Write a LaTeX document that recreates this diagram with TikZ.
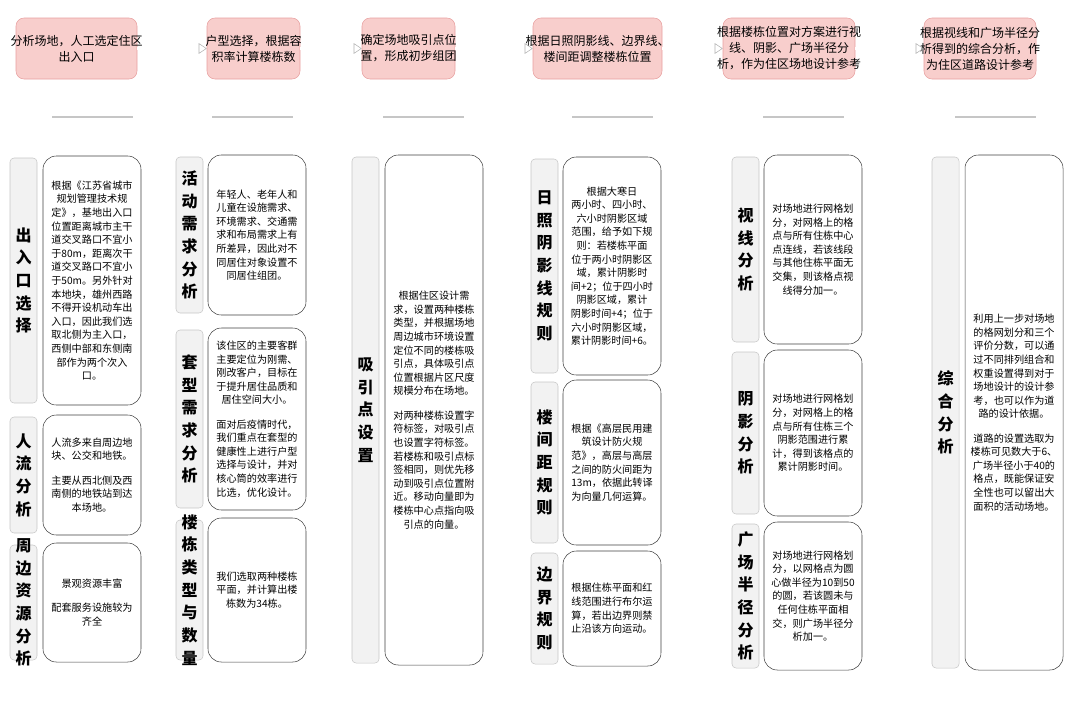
\documentclass[tikz,border=0pt]{standalone}
\usepackage{fontspec}
\setmainfont{Noto Sans CJK SC}
\usetikzlibrary{fit,arrows.meta}
\definecolor{stepred}{HTML}{F8CECC}
\definecolor{stepline}{HTML}{E8A0A0}
\tikzset{
  stepbox/.style={fill=stepred, draw=stepline, rounded corners=6pt, inner sep=0pt},
  lbl/.style={fill=gray!10, draw=gray!45, rounded corners=3pt, inner sep=0pt},
  txt/.style={fill=white, draw=black!75, rounded corners=10pt, inner sep=0pt},
  steptext/.style={align=center, font=\fontsize{9}{12}\selectfont},
  lbltext/.style={align=center, font=\fontsize{12}{17}\selectfont\bfseries},
  bodytext/.style={align=center, font=\fontsize{7.6}{10.2}\selectfont},
  flow/.style={draw=gray!60, double=white, double distance=1.6pt, -{Triangle[open,length=6pt,width=8pt]}},
  rule/.style={draw=gray!45, line width=0.8pt}
}
% one panel: grey label box plus white text box
\newcommand\panel[7]{%
  \node[lbl, fit={(#2,#4) (#2+27,#5)}] (#1l) {};
  \node[lbltext] at (#1l) {#6};
  \node[txt, fit={(#3,#4-2) (#3+98,#5+2)}] (#1t) {};
  \node[bodytext] at (#1t) {#7};
  \ignorespaces}
\begin{document}
\begin{tikzpicture}[x=0.75pt,y=-0.75pt]
\useasboundingbox (0,0) rectangle (1080,701);
% steps
\node[stepbox, fit={(16,18) (137,79)}] (s1) {};
\node[steptext] at (s1) {分析场地，人工选定住区\\出入口};
\node[stepbox, fit={(207,18) (300,79)}] (s2) {};
\node[steptext] at (s2) {户型选择，根据容\\积率计算楼栋数};
\node[stepbox, fit={(362,18) (455,79)}] (s3) {};
\node[steptext] at (s3) {确定场地吸引点位\\置，形成初步组团};
\node[stepbox, fit={(533,18) (662,79)}] (s4) {};
\node[steptext] at (s4) {根据日照阴影线、边界线、\\楼间距调整楼栋位置};
\node[stepbox, fit={(723,18) (855,79)}] (s5) {};
\node[steptext] at (s5) {根据楼栋位置对方案进行视\\线、阴影、广场半径分\\析，作为住区场地设计参考};
\node[stepbox, fit={(924,18) (1036,79)}] (s6) {};
\node[steptext] at (s6) {根据视线和广场半径分\\析得到的综合分析，作\\为住区道路设计参考};
\foreach \a/\b in {s1/s2,s2/s3,s3/s4,s4/s5,s5/s6}
  \draw[flow] (\a.east) -- (\b.west);
% rules under steps
\foreach \x in {52,212,383,572,763,955}
  \draw[rule] (\x,117) -- (\x+81,117);
% column 1
\panel{ent}{10}{43}{158}{403}{出\\入\\口\\选\\择}{根据《江苏省城市\\规划管理技术规\\定》，基地出入口\\位置距离城市主干\\道交叉路口不宜小\\于80m，距离次干\\道交叉路口不宜小\\于50m。另外针对\\本地块，雄州西路\\不得开设机动车出\\入口，因此我们选\\取北侧为主入口，\\西侧中部和东侧南\\部作为两个次入\\口。}
\panel{flowp}{10}{43}{417}{533}{人\\流\\分\\析}{人流多来自周边地\\块、公交和地铁。\\[8pt]主要从西北侧及西\\南侧的地铁站到达\\本场地。}
\panel{res}{10}{43}{545}{660}{周\\边\\资\\源\\分\\析}{景观资源丰富\\[8pt]配套服务设施较为\\齐全}
% column 2
\panel{act}{176}{208}{157}{313}{活\\动\\需\\求\\分\\析}{年轻人、老年人和\\儿童在设施需求、\\环境需求、交通需\\求和布局需求上有\\所差异，因此对不\\同居住对象设置不\\同居住组团。}
\panel{unit}{176}{208}{330}{508}{套\\型\\需\\求\\分\\析}{该住区的主要客群\\主要定位为刚需、\\刚改客户，目标在\\于提升居住品质和\\居住空间大小。\\[8pt]面对后疫情时代，\\我们重点在套型的\\健康性上进行户型\\选择与设计，并对\\核心筒的效率进行\\比选，优化设计。}
\panel{bld}{176}{208}{520}{660}{楼\\栋\\类\\型\\与\\数\\量}{我们选取两种楼栋\\平面，并计算出楼\\栋数为34栋。}
% column 3
\panel{att}{352}{385}{157}{663}{吸\\引\\点\\设\\置}{根据住区设计需\\求，设置两种楼栋\\类型，并根据场地\\周边城市环境设置\\定位不同的楼栋吸\\引点，具体吸引点\\位置根据片区尺度\\规模分布在场地。\\[8pt]对两种楼栋设置字\\符标签，对吸引点\\也设置字符标签。\\若楼栋和吸引点标\\签相同，则优先移\\动到吸引点位置附\\近。移动向量即为\\楼栋中心点指向吸\\引点的向量。}
% column 4
\panel{sun}{531}{563}{159}{373}{日\\照\\阴\\影\\线\\规\\则}{根据大寒日\\两小时、四小时、\\六小时阴影区域\\范围，给予如下规\\则：若楼栋平面\\位于两小时阴影区\\域，累计阴影时\\间+2；位于四小时\\阴影区域，累计\\阴影时间+4；位于\\六小时阴影区域，\\累计阴影时间+6。}
\panel{gap}{531}{563}{382}{543}{楼\\间\\距\\规\\则}{根据《高层民用建\\筑设计防火规\\范》，高层与高层\\之间的防火间距为\\13m，依据此转译\\为向量几何运算。}
\panel{bnd}{531}{563}{553}{664}{边\\界\\规\\则}{根据住栋平面和红\\线范围进行布尔运\\算，若出边界则禁\\止沿该方向运动。}
% column 5
\panel{view}{732}{764}{157}{342}{视\\线\\分\\析}{对场地进行网格划\\分，对网格上的格\\点与所有住栋中心\\点连线，若该线段\\与其他住栋平面无\\交集，则该格点视\\线得分加一。}
\panel{shd}{732}{764}{352}{514}{阴\\影\\分\\析}{对场地进行网格划\\分，对网格上的格\\点与所有住栋三个\\阴影范围进行累\\计，得到该格点的\\累计阴影时间。}
\panel{sq}{732}{764}{524}{668}{广\\场\\半\\径\\分\\析}{对场地进行网格划\\分，以网格点为圆\\心做半径为10到50\\的圆，若该圆未与\\任何住栋平面相\\交，则广场半径分\\析加一。}
% column 6
\panel{all}{932}{965}{157}{668}{综\\合\\分\\析}{利用上一步对场地\\的格网划分和三个\\评价分数，可以通\\过不同排列组合和\\权重设置得到对于\\场地设计的设计参\\考，也可以作为道\\路的设计依据。\\[8pt]道路的设置选取为\\楼栋可见数大于6、\\广场半径小于40的\\格点，既能保证安\\全性也可以留出大\\面积的活动场地。}
\end{tikzpicture}
\end{document}
